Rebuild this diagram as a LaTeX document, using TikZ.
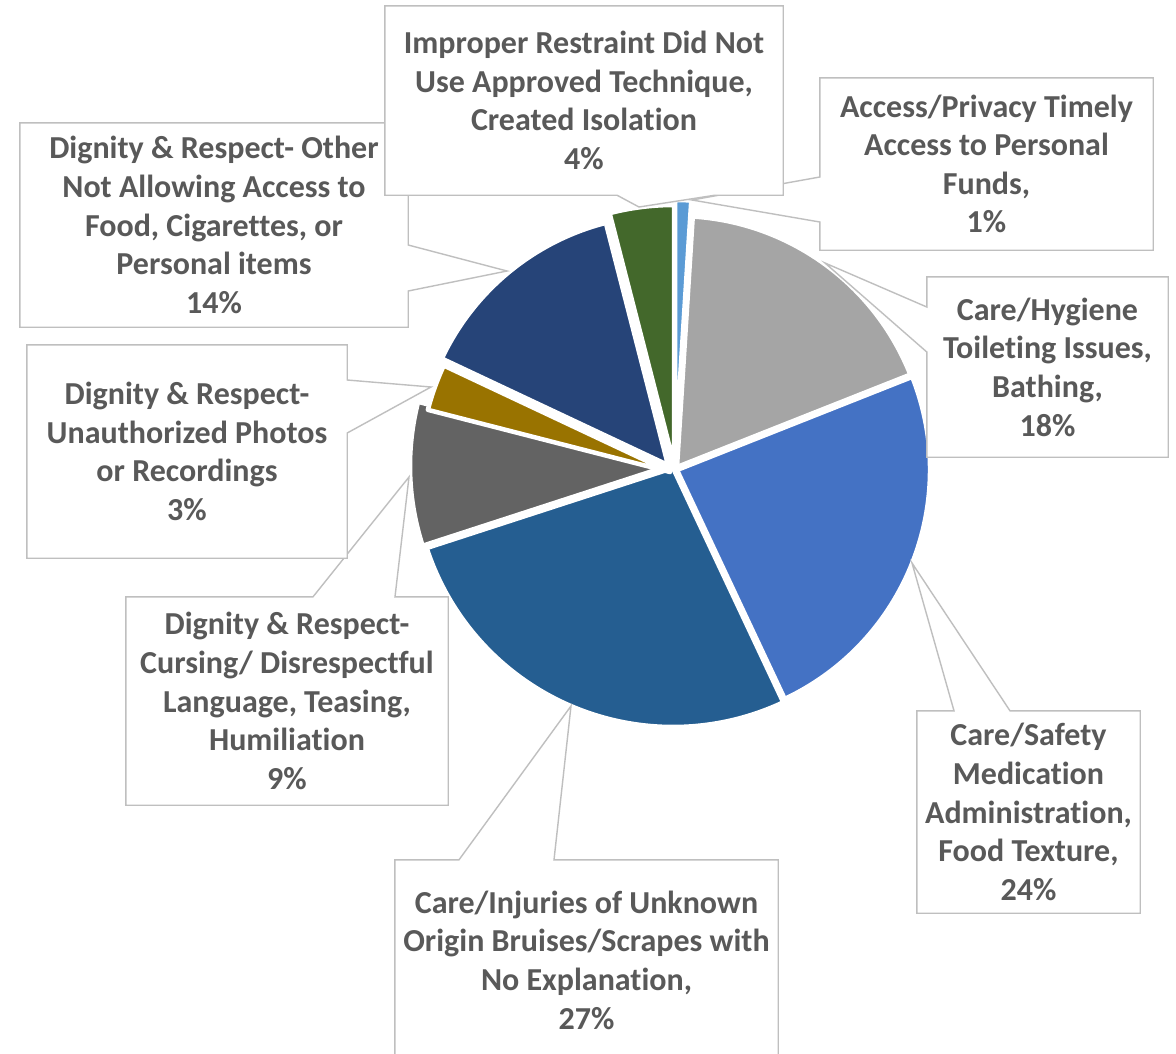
\documentclass[tikz,border=0pt]{standalone}
\usepackage{fontspec}
\setmainfont{Carlito}[Ligatures=NoCommon]
\usetikzlibrary{calc}
\definecolor{lblue}{HTML}{5B9BD5}
\definecolor{lgray}{HTML}{A5A5A5}
\definecolor{mblue}{HTML}{4472C4}
\definecolor{steel}{HTML}{255E91}
\definecolor{dgray}{HTML}{636363}
\definecolor{gold}{HTML}{997300}
\definecolor{navy}{HTML}{264478}
\definecolor{dgreen}{HTML}{43682B}
\definecolor{calloutgray}{HTML}{BFBFBF}
\definecolor{labelgray}{HTML}{595959}
\pgfdeclarelayer{pielayer}
\pgfdeclarelayer{boxlayer}
\pgfsetlayers{pielayer,boxlayer,main}
\newcommand{\pieslice}[6]{%
  \filldraw[slicestyle, fill=#1] (#2,#3) -- ++({#5-90}:#4)
    arc[start angle={#5-90}, end angle={#6-90}, radius=#4] -- cycle;}
\begin{document}
\begin{tikzpicture}[x=1pt,y=-1pt,
  slicestyle/.style={draw=white, line width=4.5pt, line join=round},
  callout/.style={fill=white, draw=calloutgray, line width=1.4pt, line join=miter},
  lbl/.style={font=\fontsize{32}{38.6}\selectfont\bfseries, text=labelgray,
    align=center, inner sep=0pt}]
\useasboundingbox (0,0) rectangle (1176,1053);

% pie
\begin{pgfonlayer}{pielayer}
\fill[white] (0,0) rectangle (1176,1053);
\pieslice{lblue}{675}{459}{259}{0}{3.6}
\pieslice{lgray}{677}{467}{251}{3.6}{68.4}
\pieslice{mblue}{677}{470}{253}{68.4}{154.8}
\pieslice{steel}{673}{468}{259}{154.8}{252}
\pieslice{dgray}{668}{466}{258}{252}{284.4}
\pieslice{gold}{670}{472}{250}{284.4}{295.2}
\pieslice{navy}{668}{465}{250}{295.2}{345.6}
\pieslice{dgreen}{674}{464}{259}{345.6}{360}
\end{pgfonlayer}

% tips
\coordinate (othTip) at (507,271);
\coordinate (curTip) at (409,477);
\coordinate (unaTip) at (431,387);
\coordinate (injTip) at (571,706);
\coordinate (safTip) at (912,563);
\coordinate (hygTip) at (825,263);
\coordinate (accTip) at (692,200);
\coordinate (impTip) at (639,207);

% label nodes
\node[lbl, minimum width=388, minimum height=204] (oth) at (214,225)
  {Dignity \& Respect- Other\\Not Allowing Access to\\Food, Cigarettes, or\\Personal items\\14\%};
\node[lbl, minimum width=322, minimum height=208] (cur) at (287,701)
  {Dignity \& Respect-\\Cursing/ Disrespectful\\Language, Teasing,\\Humiliation\\9\%};
\node[lbl, minimum width=320, minimum height=213] (una) at (187,451.5)
  {Dignity \& Respect-\\Unauthorized Photos\\or Recordings\\3\%};
\node[lbl, minimum width=383, minimum height=200] (inj) at (586.5,960)
  {Care/Injuries of Unknown\\Origin Bruises/Scrapes with\\No Explanation,\\27\%};
\node[lbl, minimum width=223, minimum height=202] (saf) at (1028.5,812)
  {Care/Safety\\Medication\\Administration,\\Food Texture,\\24\%};
\node[lbl, minimum width=241, minimum height=180] (hyg) at (1047.5,367)
  {Care/Hygiene\\Toileting Issues,\\Bathing,\\18\%};
\node[lbl, minimum width=333, minimum height=172] (acc) at (986.5,164)
  {Access/Privacy Timely\\Access to Personal\\Funds,\\1\%};
\node[lbl, minimum width=398, minimum height=189] (imp) at (584,100.5)
  {Improper Restraint Did Not\\Use Approved Technique,\\Created Isolation\\4\%};

% callout outlines
\begin{pgfonlayer}{boxlayer}
\filldraw[callout] (oth.north west) -- (oth.north east) -- (oth.east |- 0,245)
  -- (othTip) -- (oth.east |- 0,291) -- (oth.south east) -- (oth.south west) -- cycle;
\filldraw[callout] (cur.north west) -- (313,0 |- cur.north) -- (curTip)
  -- (395,0 |- cur.north) -- (cur.north east) -- (cur.south east) -- (cur.south west) -- cycle;
\filldraw[callout] (una.north west) -- (una.north east) -- (una.east |- 0,380)
  -- (unaTip) -- (una.east |- 0,433) -- (una.south east) -- (una.south west) -- cycle;
\filldraw[callout] (inj.north west) -- (459,0 |- inj.north) -- (injTip)
  -- (554,0 |- inj.north) -- (inj.north east) -- (inj.south east) -- (inj.south west) -- cycle;
\filldraw[callout] (saf.north west) -- (954,0 |- saf.north) -- (safTip)
  -- (1010,0 |- saf.north) -- (saf.north east) -- (saf.south east) -- (saf.south west) -- cycle;
\filldraw[callout] (hyg.north west) -- (hyg.north east) -- (hyg.south east)
  -- (hyg.south west) -- (hyg.west |- 0,352) -- (hygTip) -- (hyg.west |- 0,307) -- cycle;
\filldraw[callout] (acc.north west) -- (acc.north east) -- (acc.south east)
  -- (acc.south west) -- (acc.west |- 0,222) -- (accTip) -- (acc.west |- 0,177) -- cycle;
\filldraw[callout] (imp.north west) -- (imp.north east) -- (imp.south east)
  -- (715,0 |- imp.south) -- (impTip) -- (617,0 |- imp.south) -- (imp.south west) -- cycle;
\end{pgfonlayer}
\end{tikzpicture}
\end{document}
